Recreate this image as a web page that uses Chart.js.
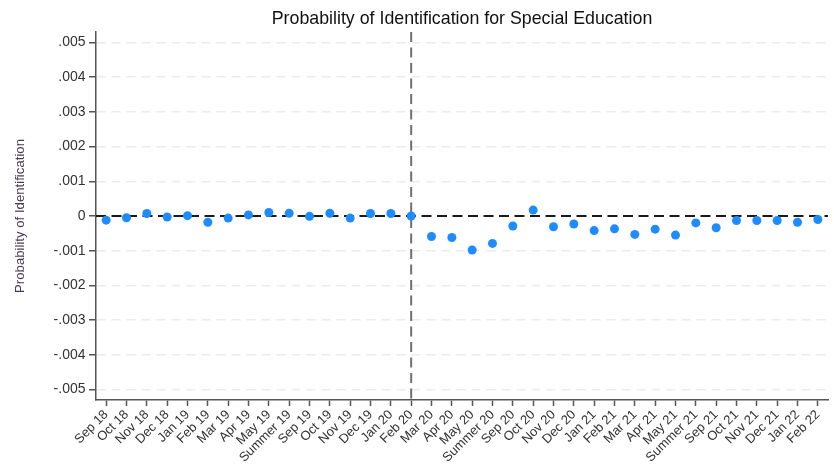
<!DOCTYPE html>
<html>
<head>
<meta charset="utf-8">
<style>
  html, body { margin: 0; padding: 0; background: #ffffff; }
  #wrap { width: 834px; height: 466px; position: relative; }
</style>
<script src="https://cdn.jsdelivr.net/npm/chart.js@4/dist/chart.umd.min.js"></script>
</head>
<body>
<div id="wrap"><canvas id="chart" width="834" height="466"></canvas></div>
<script>
// Months (and summer periods) on the horizontal axis
const months = [
  'Sep 18', 'Oct 18', 'Nov 18', 'Dec 18', 'Jan 19', 'Feb 19', 'Mar 19', 'Apr 19', 'May 19',
  'Summer 19', 'Sep 19', 'Oct 19', 'Nov 19', 'Dec 19', 'Jan 20', 'Feb 20',
  'Mar 20', 'Apr 20', 'May 20', 'Summer 20', 'Sep 20', 'Oct 20', 'Nov 20', 'Dec 20',
  'Jan 21', 'Feb 21', 'Mar 21', 'Apr 21', 'May 21', 'Summer 21', 'Sep 21', 'Oct 21',
  'Nov 21', 'Dec 21', 'Jan 22', 'Feb 22'
];

// Estimated effect on the probability of identification, by month
const estimates = [
  -0.00012, -0.00005, 0.00007, -0.00003, 0.00001, -0.00018, -0.00006, 0.00003, 0.00010,
  0.00008, -0.00001, 0.00008, -0.00006, 0.00007, 0.00007, 0.00000,
  -0.00059, -0.00062, -0.00098, -0.00079, -0.00029, 0.00017, -0.00031, -0.00023,
  -0.00042, -0.00037, -0.00053, -0.00038, -0.00055, -0.00020, -0.00034, -0.00013,
  -0.00013, -0.00013, -0.00018, -0.00010
];

// Vertical axis ticks and their labels
const yTickValues = [-0.005, -0.004, -0.003, -0.002, -0.001, 0, 0.001, 0.002, 0.003, 0.004, 0.005];
const yTickLabels = ['-.005', '-.004', '-.003', '-.002', '-.001', '0', '.001', '.002', '.003', '.004', '.005'];

// Last pre-pandemic month, marked with a vertical reference line
const referenceMonth = 'Feb 20';

const AXIS_COLOR = '#555555';
const TEXT_COLOR = '#333333';
const FONT = 'Liberation Sans, Arial, sans-serif';

// Dashed reference lines: y = 0 and the break month
const referenceLines = {
  id: 'referenceLines',
  beforeDatasetsDraw(chart) {
    const { ctx, chartArea: area, scales: { x, y } } = chart;
    ctx.save();
    // horizontal zero line
    const y0 = y.getPixelForValue(0);
    ctx.beginPath();
    ctx.setLineDash([10, 5.5]);
    ctx.lineWidth = 2;
    ctx.strokeStyle = '#1a1a1a';
    ctx.moveTo(area.left, y0);
    ctx.lineTo(area.right, y0);
    ctx.stroke();
    // vertical break line
    const xb = x.getPixelForValue(months.indexOf(referenceMonth));
    ctx.beginPath();
    ctx.setLineDash([10, 5.5]);
    ctx.lineWidth = 2;
    ctx.strokeStyle = '#707070';
    ctx.moveTo(xb, area.top);
    ctx.lineTo(xb, area.bottom);
    ctx.stroke();
    ctx.restore();
  }
};

new Chart(document.getElementById('chart'), {
  type: 'line',
  data: {
    labels: months,
    datasets: [{
      data: estimates,
      showLine: false,
      pointRadius: 4.5,
      pointHoverRadius: 4.5,
      pointBorderWidth: 0,
      pointBackgroundColor: '#1e8cff',
      borderColor: '#1e8cff'
    }]
  },
  options: {
    responsive: false,
    animation: false,
    events: [],
    layout: { padding: { left: 0, right: 6, top: 0, bottom: 0 } },
    plugins: {
      legend: { display: false },
      tooltip: { enabled: false },
      title: {
        display: true,
        text: 'Probability of Identification for Special Education',
        color: '#111111',
        fullSize: false,
        font: { family: FONT, size: 17.8, weight: 'normal' },
        padding: { top: 8, bottom: 2.6 }
      }
    },
    scales: {
      x: {
        type: 'category',
        offset: true,
        afterFit(scale) { scale.height = 66; },
        grid: {
          offset: false,
          drawOnChartArea: false,
          drawTicks: true,
          tickLength: 6,
          tickColor: AXIS_COLOR,
          tickWidth: 1.5
        },
        border: { display: true, color: AXIS_COLOR, width: 1.5 },
        ticks: {
          autoSkip: false,
          minRotation: 45,
          maxRotation: 45,
          padding: 1,
          color: TEXT_COLOR,
          font: { family: FONT, size: 13 }
        }
      },
      y: {
        type: 'linear',
        min: -0.0053,
        max: 0.0053,
        afterFit(scale) { scale.width = 96; },
        afterBuildTicks(scale) { scale.ticks = yTickValues.map(v => ({ value: v })); },
        grid: {
          drawOnChartArea: true,
          color: ctx => (ctx.tick && ctx.tick.value === 0 ? 'rgba(0,0,0,0)' : '#ebebeb'),
          lineWidth: 1.5,
          drawTicks: true,
          tickLength: 7,
          tickColor: AXIS_COLOR,
          tickWidth: 1.5
        },
        border: { display: true, color: AXIS_COLOR, width: 1.5, dash: [9, 6] },
        ticks: {
          padding: 3.5,
          color: TEXT_COLOR,
          font: { family: FONT, size: 14 },
          callback: (value, index) => yTickLabels[index]
        },
        title: {
          display: true,
          text: 'Probability of Identification',
          color: '#4a3a58',
          font: { family: FONT, size: 13.2 },
          padding: { top: 12, bottom: 0 }
        }
      }
    }
  },
  plugins: [referenceLines]
});
</script>
</body>
</html>
